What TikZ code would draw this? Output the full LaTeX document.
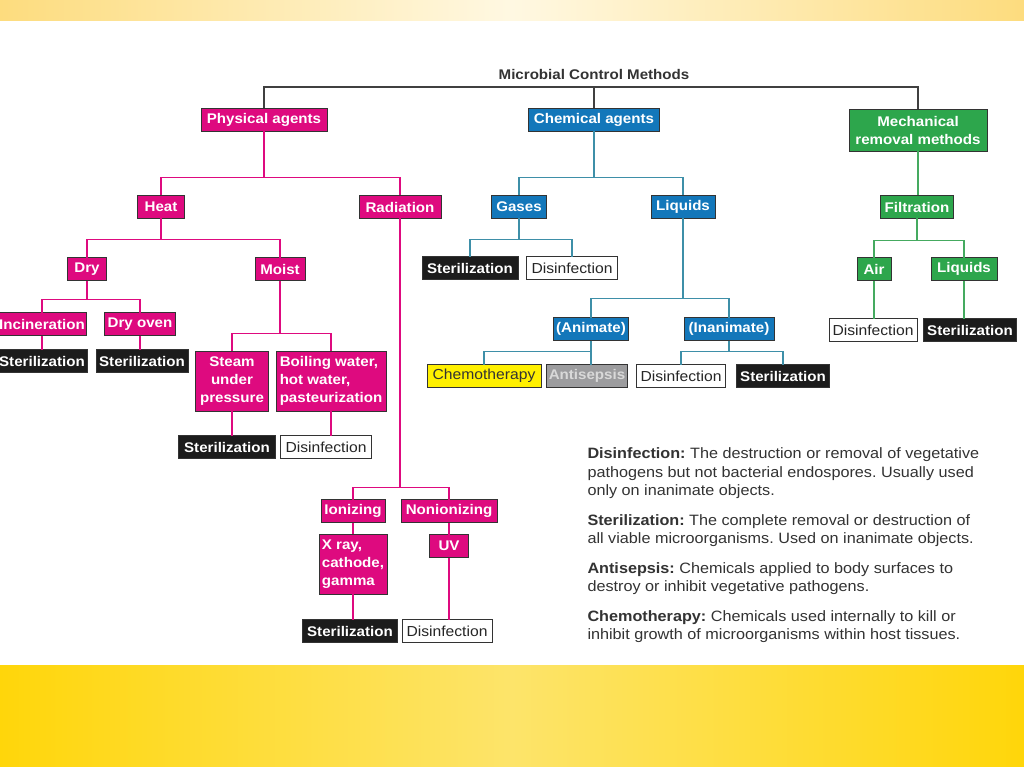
\documentclass[tikz,border=0pt]{standalone}
\usepackage{fontspec}
\setmainfont{Liberation Sans}[FakeStretch=1.08]
\begin{document}
\begin{tikzpicture}[x=1pt,y=-1pt,
  every node/.style={inner sep=2pt, inner xsep=1.5pt, outer sep=0pt},
  base/.style={draw=black!80, line width=0.9pt, minimum height=23pt, font=\fontsize{14}{18}\selectfont\bfseries},
  mag/.style={base, fill=magc, text=white},
  blu/.style={base, fill=bluc, text=white},
  grn/.style={base, fill=grnc, text=white},
  blk/.style={base, fill=blkc, text=white},
  wht/.style={base, fill=white, text=black!85, font=\fontsize{14.5}{18}\selectfont},
  yel/.style={base, fill=yelc, text=black!80, font=\fontsize{14.5}{18}\selectfont},
  gry/.style={base, fill=gryc, text=black!15},
  ml/.style={draw=magc, line width=1.2pt},
  bl/.style={draw=blulc, line width=1.2pt},
  gl/.style={draw=grnlc, line width=1.2pt},
  tl/.style={draw=black!75, line width=1.2pt}
]
\definecolor{magc}{HTML}{DE0A7F}
\definecolor{bluc}{HTML}{1377BA}
\definecolor{grnc}{HTML}{2DA64C}
\definecolor{blkc}{HTML}{1C1C1C}
\definecolor{yelc}{HTML}{FFF000}
\definecolor{gryc}{HTML}{9C9C9E}
\definecolor{blulc}{HTML}{3E8FA8}
\definecolor{grnlc}{HTML}{45AA60}
\definecolor{bandA}{HTML}{FDDC7E}
\definecolor{bandB}{HTML}{FFF8E2}
\definecolor{botA}{HTML}{FFD60A}
\definecolor{botB}{HTML}{FDE46A}
\useasboundingbox (0,0) rectangle (1024,767);
\fill[white] (0,0) rectangle (1024,767);
\shade[left color=bandA, right color=bandA, middle color=bandB] (0,0) rectangle (1024,21);
\shade[left color=botA, right color=botA, middle color=botB] (0,665) rectangle (1024,767);

% title
\node[font=\fontsize{14}{16}\selectfont\bfseries, text=black!80] (title) at (594,74) {Microbial Control Methods};
\coordinate (bus) at (594,87);

% level 1
\node[mag, minimum width=126pt] (phys) at (264,120) {Physical agents};
\node[blu, minimum width=131pt] (chem) at (594,120) {Chemical agents};
\node[grn, minimum width=138pt, minimum height=42pt, align=center, font=\fontsize{14}{18}\selectfont\bfseries] (mech) at (918,130) {Mechanical\\removal methods};

% physical
\node[mag, minimum width=47pt] (heat) at (161,207) {Heat};
\node[mag, minimum width=82pt] (rad) at (400,207) {Radiation};
\node[mag, minimum width=39pt] (dry) at (87,269) {Dry};
\node[mag, minimum width=50pt] (moist) at (280,269) {Moist};
\node[mag, minimum width=88pt] (incin) at (42,324) {Incineration};
\node[mag, minimum width=71pt] (oven) at (140,324) {Dry oven};
\node[blk, minimum width=90pt] (s1) at (42,361) {Sterilization};
\node[blk, minimum width=92pt] (s2) at (142,361) {Sterilization};
\node[mag, minimum width=73pt, minimum height=60pt, align=center] (steam) at (232,381) {Steam\\under\\pressure};
\node[mag, minimum width=110pt, minimum height=60pt, align=left] (boil) at (331,381) {Boiling water,\\hot water,\\pasteurization};
\node[blk, minimum width=97pt] (s3) at (227,447) {Sterilization};
\node[wht, minimum width=91pt] (d3) at (326,447) {Disinfection};
\node[mag, minimum width=64pt] (ion) at (353,511) {Ionizing};
\node[mag, minimum width=96pt] (nonion) at (449,511) {Nonionizing};
\node[mag, minimum width=68pt, minimum height=60pt, align=left] (xray) at (353,564) {X ray,\\cathode,\\gamma};
\node[mag, minimum width=39pt] (uv) at (449,546) {UV};
\node[blk, minimum width=95pt] (s4) at (350,631) {Sterilization};
\node[wht, minimum width=90pt] (d4) at (447,631) {Disinfection};

% chemical
\node[blu, minimum width=55pt] (gas) at (519,207) {Gases};
\node[blu, minimum width=64pt] (liq) at (683,207) {Liquids};
\node[blk, minimum width=96pt] (s5) at (470,268) {Sterilization};
\node[wht, minimum width=91pt] (d5) at (572,268) {Disinfection};
\node[blu, minimum width=75pt] (anim) at (591,329) {(Animate)};
\node[blu, minimum width=90pt] (inan) at (729,329) {(Inanimate)};
\node[yel, minimum width=114pt] (chemo) at (484,376) {Chemotherapy};
\node[gry, minimum width=81pt] (anti) at (587,376) {Antisepsis};
\node[wht, minimum width=89pt] (d6) at (681,376) {Disinfection};
\node[blk, minimum width=93pt] (s6) at (783,376) {Sterilization};

% mechanical
\node[grn, minimum width=73pt] (filt) at (917,207) {Filtration};
\node[grn, minimum width=34pt] (air) at (874,269) {Air};
\node[grn, minimum width=66pt] (liq2) at (964,269) {Liquids};
\node[wht, minimum width=88pt] (d7) at (873,330) {Disinfection};
\node[blk, minimum width=93pt] (s7) at (970,330) {Sterilization};

% legend
\node[anchor=north west, align=left, text=black!80, font=\fontsize{15}{18.5}\selectfont\frenchspacing] (legend) at (586,446)
{\textbf{Disinfection:} The destruction or removal of vegetative\\
pathogens but not bacterial endospores. Usually used\\
only on inanimate objects.\\[11pt]
\textbf{Sterilization:} The complete removal or destruction of\\
all viable microorganisms. Used on inanimate objects.\\[11pt]
\textbf{Antisepsis:} Chemicals applied to body surfaces to\\
destroy or inhibit vegetative pathogens.\\[11pt]
\textbf{Chemotherapy:} Chemicals used internally to kill or\\
inhibit growth of microorganisms within host tissues.};

% connectors: top
\draw[tl] (phys.north) |- (bus) -| (mech.north);
\draw[tl] (bus) -- (chem.north);

% physical
\draw[ml] (phys.south) -- ++(0,46) -| (heat.north);
\draw[ml] (phys.south) -- ++(0,46) -| (rad.north);
\draw[ml] (heat.south) -- ++(0,21) -| (dry.north);
\draw[ml] (heat.south) -- ++(0,21) -| (moist.north);
\draw[ml] (dry.south) -- ++(0,19) -| (incin.north);
\draw[ml] (dry.south) -- ++(0,19) -| (oven.north);
\draw[ml] (incin.south) -- (incin.south |- s1.north);
\draw[ml] (oven.south) -- (oven.south |- s2.north);
\draw[ml] (moist.south) -- ++(0,53) -| (steam.north);
\draw[ml] (moist.south) -- ++(0,53) -| (boil.north);
\draw[ml] (steam.south) -- (steam.south |- s3.north);
\draw[ml] (boil.south) -- (boil.south |- d3.north);
\draw[ml] (rad.south) -- ++(0,269) -| (ion.north);
\draw[ml] (rad.south) -- ++(0,269) -| (nonion.north);
\draw[ml] (ion.south) -- (xray.north);
\draw[ml] (nonion.south) -- (uv.north);
\draw[ml] (xray.south) -- (xray.south |- s4.north);
\draw[ml] (uv.south) -- (uv.south |- d4.north);

% chemical
\draw[bl] (chem.south) -- ++(0,46) -| (gas.north);
\draw[bl] (chem.south) -- ++(0,46) -| (liq.north);
\draw[bl] (gas.south) -- ++(0,21) -| (s5.north);
\draw[bl] (gas.south) -- ++(0,21) -| (d5.north);
\draw[bl] (liq.south) -- ++(0,80) -| (anim.north);
\draw[bl] (liq.south) -- ++(0,80) -| (inan.north);
\draw[bl] (anim.south) -- ++(0,11) -| (chemo.north);
\draw[bl] (anim.south) -- (anim.south |- anti.north);
\draw[bl] (inan.south) -- ++(0,11) -| (d6.north);
\draw[bl] (inan.south) -- ++(0,11) -| (s6.north);

% mechanical
\draw[gl] (mech.south) -- (mech.south |- filt.north);
\draw[gl] (filt.south) -- ++(0,22) -| (air.north);
\draw[gl] (filt.south) -- ++(0,22) -| (liq2.north);
\draw[gl] (air.south) -- (air.south |- d7.north);
\draw[gl] (liq2.south) -- (liq2.south |- s7.north);
\end{tikzpicture}
\end{document}
